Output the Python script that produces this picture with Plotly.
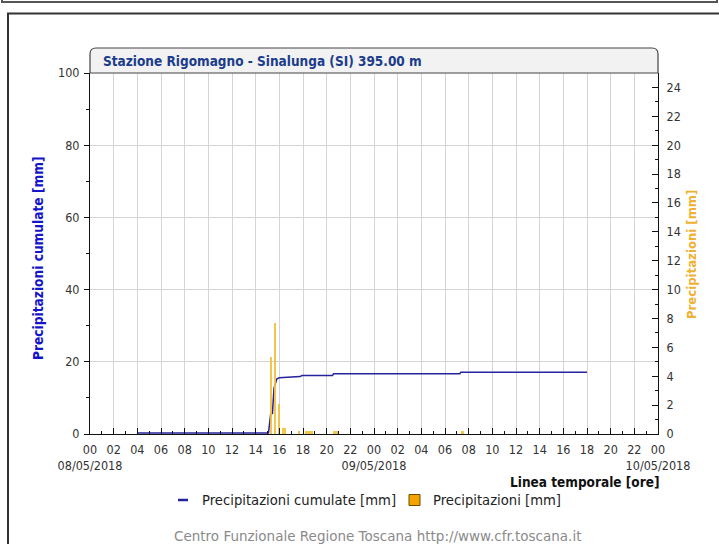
import plotly.graph_objects as go

# ---------------- data ----------------
cum_times = ["2018-05-08 04:00", "2018-05-08 15:05", "2018-05-08 15:16", "2018-05-08 15:25",
             "2018-05-08 15:33", "2018-05-08 15:47", "2018-05-08 16:00", "2018-05-08 17:00",
             "2018-05-08 17:45", "2018-05-08 17:55", "2018-05-08 20:30", "2018-05-08 20:35",
             "2018-05-09 07:15", "2018-05-09 07:20", "2018-05-09 18:00"]
cum_values = [0.3, 0.3, 5.5, 5.7, 12.7, 15.2, 15.6, 15.8, 15.9, 16.2, 16.2, 16.7, 16.7, 17.1, 17.1]

rain_times = ["2018-05-08 15:20", "2018-05-08 15:40", "2018-05-08 16:00", "2018-05-08 16:20",
              "2018-05-08 16:30", "2018-05-08 17:40", "2018-05-08 18:20", "2018-05-08 18:35",
              "2018-05-08 18:45", "2018-05-08 20:40", "2018-05-08 20:50", "2018-05-09 07:30"]
rain_values = [5.3, 7.7, 2.1, 0.4, 0.4, 0.2, 0.2, 0.2, 0.2, 0.2, 0.2, 0.2]

x_tick_times = ["2018-05-08 %02d:00" % h for h in range(0, 24, 2)] + \
               ["2018-05-09 %02d:00" % h for h in range(0, 24, 2)] + ["2018-05-10 00:00"]
x_tick_labels = ["00<br>08/05/2018"] + ["%02d" % h for h in range(2, 24, 2)] + \
                ["00<br>09/05/2018"] + ["%02d" % h for h in range(2, 24, 2)] + ["00<br>10/05/2018"]

left_ticks = [0, 20, 40, 60, 80, 100]
right_ticks = list(range(0, 25, 2))

title_text = "Stazione Rigomagno - Sinalunga (SI) 395.00 m"
left_title = "Precipitazioni cumulate [mm]"
right_title = "Precipitazioni [mm]"
x_title = "Linea temporale [ore]"
legend_names = ["Precipitazioni cumulate [mm]", "Precipitazioni [mm]"]
footer = "Centro Funzionale Regione Toscana http://www.cfr.toscana.it"

# ---------------- layout geometry ----------------
W, H = 719, 544
L, R, T, B = 90, 658, 73, 434
FONT = "DejaVu Sans Condensed, Liberation Sans Narrow, DejaVu Sans, sans-serif"
FONT_WIDE = "DejaVu Sans, sans-serif"
LINE_C = "#24249c"
BAR_C = "#f3bf3a"


def px(x):
    return (x - L) / (R - L)


def py(y):
    return (B - y) / (B - T)


fig = go.Figure()
fig.add_trace(go.Bar(x=rain_times, y=rain_values, yaxis="y2", width=600000,
                     marker=dict(color=BAR_C, line=dict(width=0)), opacity=0.9,
                     name=legend_names[1], showlegend=False))
fig.add_trace(go.Scatter(x=cum_times, y=cum_values, mode="lines",
                         line=dict(color=LINE_C, width=1.5),
                         name=legend_names[0], showlegend=False))

shapes = []
annotations = []

# outer frames
shapes.append(dict(type="rect", xref="paper", yref="paper", x0=px(2), x1=px(717), y0=py(2), y1=py(-20),
                   line=dict(color="#555", width=2), fillcolor="rgba(0,0,0,0)", layer="below"))
shapes.append(dict(type="rect", xref="paper", yref="paper", x0=px(8), x1=px(740), y0=py(570), y1=py(13.5),
                   line=dict(color="#333", width=2), fillcolor="rgba(0,0,0,0)", layer="below"))

# title bar with rounded top corners
x0, x1, y0, y1 = px(90), px(658), py(73), py(48)
rx, ry = 6 / 568, 6 / 361
path = (f"M {x0},{y0} L {x0},{y1 - ry} Q {x0},{y1} {x0 + rx},{y1} "
        f"L {x1 - rx},{y1} Q {x1},{y1} {x1},{y1 - ry} L {x1},{y0} Z")
shapes.append(dict(type="path", xref="paper", yref="paper", path=path,
                   fillcolor="#f2f2f2", line=dict(color="#444", width=1.2)))
annotations.append(dict(xref="paper", yref="paper", x=px(101), y=py(60.5), xanchor="left", yanchor="middle",
                        text="<b>%s</b>" % title_text, showarrow=False,
                        font=dict(family=FONT, size=13.5, color="#1c3c8c")))

# x axis title
annotations.append(dict(xref="paper", yref="paper", x=px(661), y=py(482), xanchor="right", yanchor="middle",
                        text="<b>%s</b>" % x_title, showarrow=False,
                        font=dict(family=FONT, size=13.5, color="#111")))

# legend (manual)
shapes.append(dict(type="line", xref="paper", yref="paper", x0=px(178), x1=px(188), y0=py(500), y1=py(500),
                   line=dict(color=LINE_C, width=2.5)))
annotations.append(dict(xref="paper", yref="paper", x=px(200), y=py(500), xanchor="left", yanchor="middle",
                        text=legend_names[0], showarrow=False, font=dict(family=FONT_WIDE, size=13.2, color="#222")))
shapes.append(dict(type="rect", xref="paper", yref="paper", x0=px(409), x1=px(420), y0=py(505.5), y1=py(494.5),
                   fillcolor="#f4a300", line=dict(color="#6b4a00", width=1)))
annotations.append(dict(xref="paper", yref="paper", x=px(431), y=py(500), xanchor="left", yanchor="middle",
                        text=legend_names[1], showarrow=False, font=dict(family=FONT_WIDE, size=13.2, color="#222")))

# footer
annotations.append(dict(xref="paper", yref="paper", x=px(377), y=py(536), xanchor="center", yanchor="middle",
                        text=footer, showarrow=False, font=dict(family=FONT_WIDE, size=13.5, color="#8a8a8a")))

# axis titles
annotations.append(dict(xref="paper", yref="paper", x=px(38), y=py(258), xanchor="center", yanchor="middle",
                        text="<b>%s</b>" % left_title, textangle=-90, showarrow=False,
                        font=dict(family=FONT, size=13.6, color="#1414c8")))
annotations.append(dict(xref="paper", yref="paper", x=px(691), y=py(255), xanchor="center", yanchor="middle",
                        text="<b>%s</b>" % right_title, textangle=-90, showarrow=False,
                        font=dict(family=FONT, size=13, color="#f0b030")))

fig.update_layout(
    width=W, height=H,
    margin=dict(l=L, r=W - R, t=T, b=H - B, pad=0),
    paper_bgcolor="white", plot_bgcolor="white",
    font=dict(family=FONT, size=12, color="#333"),
    bargap=0,
    shapes=shapes, annotations=annotations,
    xaxis=dict(type="date", range=["2018-05-08 00:00", "2018-05-10 00:00"],
               tickmode="array", tickvals=x_tick_times, ticktext=x_tick_labels, tickangle=0,
               ticks="inside", ticklen=6, tickcolor="#111", tickwidth=1, ticklabelstandoff=4,
               showline=True, linecolor="#111", linewidth=1,
               showgrid=True, gridcolor="#d4d4d4", gridwidth=1,
               minor=dict(dtick=3600000, ticks="inside", ticklen=3, tickcolor="#111", showgrid=False),
               tickfont=dict(family=FONT, size=12.5, color="#333"), zeroline=False, automargin=False),
    yaxis=dict(range=[0, 100], tickmode="array", tickvals=left_ticks,
               ticks="outside", ticklen=5, tickcolor="#111", ticklabelstandoff=2,
               showline=True, linecolor="#111", linewidth=1, mirror=False,
               showgrid=True, gridcolor="#d4d4d4", zeroline=False, automargin=False,
               minor=dict(dtick=10, ticks="outside", ticklen=3, tickcolor="#111", showgrid=False),
               tickfont=dict(family=FONT, size=12.5, color="#333")),
    yaxis2=dict(range=[0, 25], overlaying="y", side="right", tickmode="array", tickvals=right_ticks,
                ticks="inside", ticklen=6, tickcolor="#111", ticklabelstandoff=5,
                showline=True, linecolor="#111", linewidth=1, automargin=False,
                showgrid=False, zeroline=False,
                minor=dict(dtick=1, ticks="inside", ticklen=3, tickcolor="#111", showgrid=False),
                tickfont=dict(family=FONT, size=12.5, color="#333")),
)

fig.write_html("out.html", config={"displayModeBar": False},
               post_script="document.body.style.margin='0px';")
